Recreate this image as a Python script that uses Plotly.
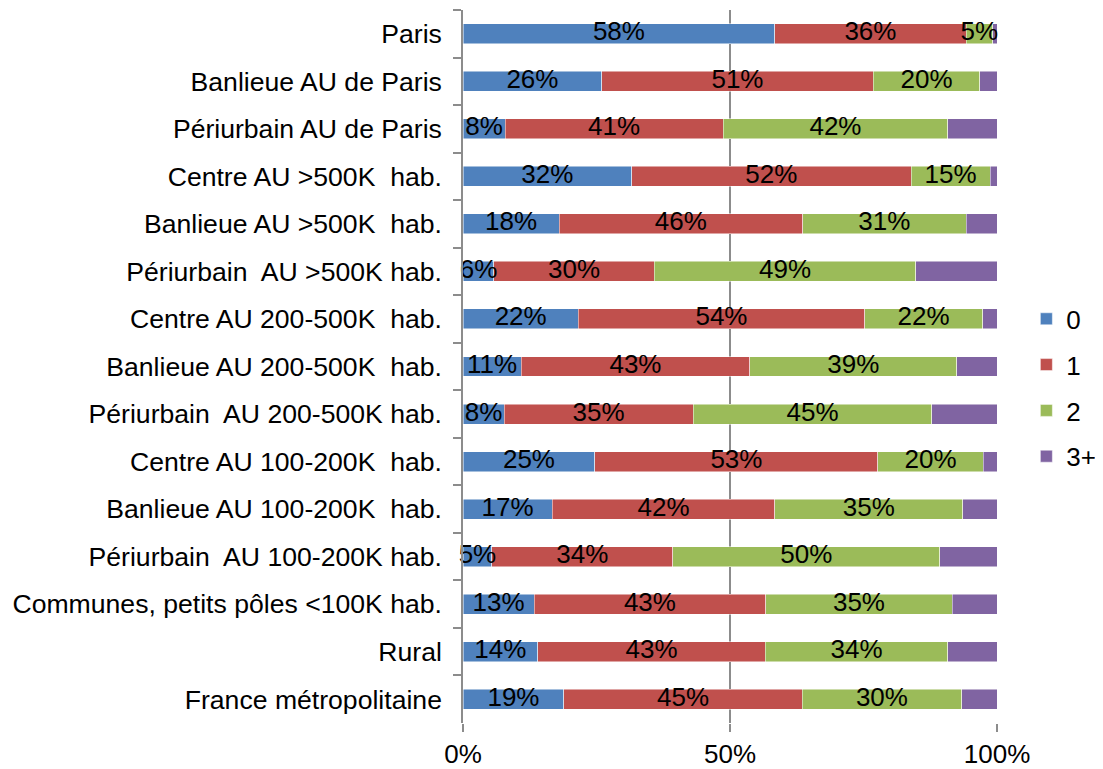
import plotly.graph_objects as go

categories = [
    "Paris",
    "Banlieue AU de Paris",
    "Périurbain AU de Paris",
    "Centre AU >500K  hab.",
    "Banlieue AU >500K  hab.",
    "Périurbain  AU >500K hab.",
    "Centre AU 200-500K  hab.",
    "Banlieue AU 200-500K  hab.",
    "Périurbain  AU 200-500K hab.",
    "Centre AU 100-200K  hab.",
    "Banlieue AU 100-200K  hab.",
    "Périurbain  AU 100-200K hab.",
    "Communes, petits pôles <100K hab.",
    "Rural",
    "France métropolitaine",
]

series_names = ["0", "1", "2", "3+"]

v0 = [58.4, 26.0, 7.9, 31.6, 18.0, 5.8, 21.6, 10.9, 7.7, 24.7, 16.7, 5.4, 13.3, 14.0, 18.9]
v1 = [35.8, 50.8, 40.8, 52.3, 45.6, 30.0, 53.6, 42.8, 35.4, 53.0, 41.7, 33.9, 43.4, 42.6, 44.6]
v2 = [5.0, 20.0, 42.1, 14.8, 30.6, 49.0, 22.1, 38.8, 44.7, 19.7, 35.2, 50.0, 34.9, 34.2, 29.9]
v3 = [0.8, 3.2, 9.2, 1.3, 5.8, 15.2, 2.7, 7.5, 12.2, 2.6, 6.4, 10.7, 8.4, 9.2, 6.6]

colors = ["#4F81BD", "#C0504D", "#9BBB59", "#8064A2"]
values = [v0, v1, v2, v3]
show_labels = [True, True, True, False]

x_tickvals = [0, 50, 100]
x_ticktext = ["0%", "50%", "100%"]

FONT = "Liberation Sans, Arial, sans-serif"

fig = go.Figure()
for name, vals, col in zip(series_names, values, colors):
    fig.add_trace(go.Bar(
        y=categories,
        x=vals,
        name=name,
        orientation="h",
        marker=dict(color=col, line=dict(color="rgba(255,255,255,0.7)", width=0.7)),
        textposition="none",
        legendgroup=name,
        hoverinfo="x+y+name",
    ))

# Segment labels drawn on top of all bars (so neighbouring segments don't hide them)
base = [0.0] * len(categories)
for name, vals, lab in zip(series_names, values, show_labels):
    mids = [b + v / 2 for b, v in zip(base, vals)]
    if lab:
        fig.add_trace(go.Scatter(
            x=mids,
            y=categories,
            mode="text",
            text=[f"{round(v)}%" for v in vals],
            textposition="middle center",
            textfont=dict(family=FONT, size=26, color="black"),
            cliponaxis=False,
            showlegend=False,
            hoverinfo="skip",
        ))
    base = [b + v for b, v in zip(base, vals)]

fig.update_layout(
    width=1103,
    height=769,
    barmode="stack",
    bargap=0.58,
    plot_bgcolor="white",
    paper_bgcolor="white",
    font=dict(family=FONT, size=26, color="black"),
    margin=dict(l=455, r=114, t=2, b=54),
    legend=dict(
        x=1.055, xanchor="left",
        y=0.47, yanchor="middle",
        traceorder="grouped",
        tracegroupgap=9,
        font=dict(family=FONT, size=26, color="black"),
        itemwidth=30,
    ),
    showlegend=True,
)

fig.update_xaxes(
    range=[0, 100],
    tickvals=x_tickvals,
    ticktext=x_ticktext,
    showgrid=True,
    gridcolor="#8C8C8C",
    gridwidth=1.5,
    zeroline=False,
    showline=False,
    ticks="outside",
    ticklen=8,
    tickwidth=1.5,
    tickcolor="#8C8C8C",
    automargin=False,
    tickfont=dict(family=FONT, size=26, color="black"),
)

fig.update_yaxes(
    range=[len(categories) - 0.5, -0.5],
    autorange=False,
    showline=True,
    linecolor="#8C8C8C",
    linewidth=1.5,
    ticks="outside",
    tickson="boundaries",
    ticklen=8,
    tickwidth=1.5,
    tickcolor="#8C8C8C",
    showgrid=False,
    automargin=False,
    ticklabelstandoff=14,
    tickfont=dict(family=FONT, size=26.6, color="black"),
)

fig.write_html("out.html")
